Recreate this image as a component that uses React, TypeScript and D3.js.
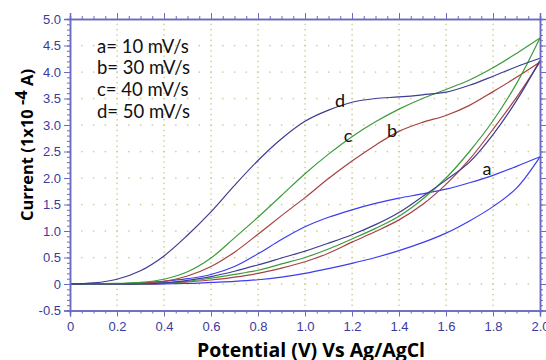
import React, { useEffect, useRef } from 'react';
import * as d3 from 'd3';

// Potential grid (V) shared by every branch
const potential = [0, 0.1, 0.2, 0.3, 0.4, 0.5, 0.6, 0.7, 0.8, 0.9, 1.0, 1.1, 1.2, 1.3, 1.4, 1.5, 1.6, 1.7, 1.8, 1.9, 2.0];

// Current (x10^-4 A), forward sweep (upper branch) and reverse sweep (lower branch)
const aForward = [0, 0, 0.005, 0.02, 0.05, 0.1, 0.18, 0.33, 0.57, 0.84, 1.08, 1.26, 1.4, 1.52, 1.62, 1.7, 1.79, 1.91, 2.05, 2.22, 2.4];
const aReverse = [0, 0, 0, 0, 0, 0.01, 0.03, 0.05, 0.08, 0.13, 0.2, 0.29, 0.39, 0.5, 0.63, 0.78, 0.96, 1.19, 1.46, 1.81, 2.4];
const bForward = [0, 0, 0.005, 0.02, 0.05, 0.15, 0.33, 0.6, 0.94, 1.29, 1.63, 1.99, 2.32, 2.62, 2.88, 3.05, 3.18, 3.37, 3.63, 3.9, 4.19];
const bReverse = [0, 0, 0, 0, 0.01, 0.04, 0.075, 0.13, 0.2, 0.3, 0.42, 0.58, 0.79, 0.99, 1.21, 1.5, 1.88, 2.35, 2.92, 3.52, 4.19];
const cForward = [0, 0, 0.01, 0.03, 0.09, 0.23, 0.49, 0.87, 1.26, 1.67, 2.08, 2.45, 2.78, 3.06, 3.3, 3.5, 3.67, 3.85, 4.08, 4.35, 4.64];
const cReverse = [0, 0, 0, 0, 0.02, 0.05, 0.11, 0.18, 0.26, 0.38, 0.5, 0.66, 0.85, 1.05, 1.28, 1.6, 2.0, 2.5, 3.08, 3.78, 4.64];
const dForward = [0, 0.02, 0.09, 0.25, 0.53, 0.92, 1.36, 1.86, 2.33, 2.74, 3.07, 3.28, 3.43, 3.5, 3.53, 3.57, 3.62, 3.75, 3.92, 4.1, 4.26];
const dReverse = [0, 0, 0, 0, 0.02, 0.07, 0.14, 0.24, 0.36, 0.49, 0.62, 0.77, 0.93, 1.12, 1.35, 1.65, 1.96, 2.3, 2.82, 3.46, 4.22];

const seriesIds = ['a', 'b', 'c', 'd'];
const seriesColors = ['#3c3cf0', '#a84040', '#3c9c3c', '#3c3c94'];
const forwardSweeps = [aForward, bForward, cForward, dForward];
const reverseSweeps = [aReverse, bReverse, cReverse, dReverse];

// Curve labels, placed in data coordinates
const labelPotential = [1.774, 1.37, 1.183, 1.149];
const labelCurrent = [2.19, 2.9, 2.81, 3.47];

const legendLines = ['a= 10 mV/s', 'b= 30 mV/s', 'c= 40 mV/s', 'd= 50 mV/s'];

const xMajor = [0, 0.2, 0.4, 0.6, 0.8, 1.0, 1.2, 1.4, 1.6, 1.8, 2.0];
const yMajor = [-0.5, 0, 0.5, 1.0, 1.5, 2.0, 2.5, 3.0, 3.5, 4.0, 4.5, 5.0];

const width = 546;
const height = 360;
const axisColor = '#6a6abf';
const tickTextColor = '#3a3a9c';
const tickFont = "'Liberation Sans Narrow', 'Arial Narrow', 'Liberation Sans', sans-serif";
const textFont = "Lato, 'Open Sans', sans-serif";

const App = () => {
  const svgRef = useRef(null);

  useEffect(() => {
    const svg = d3.select(svgRef.current);
    svg.selectAll('*').remove();

    const x = d3.scaleLinear().domain([0, 2]).range([70, 540]);
    const y = d3.scaleLinear().domain([-0.5, 5]).range([310.5, 19]);

    const xMinor = d3.range(0, 2.0001, 0.05);
    const yMinor = d3.range(-0.5, 5.0001, 0.1);

    // dotted grid: dots at minor positions along major lines
    const grid = svg.append('g').attr('fill', '#c9cb92');
    yMajor.slice(1, -1).forEach((v) => {
      xMinor.slice(1, -1).forEach((u) => {
        grid.append('rect').attr('x', x(u) - 0.6).attr('y', y(v) - 0.6).attr('width', 1.4).attr('height', 1.4);
      });
    });
    xMajor.slice(1, -1).forEach((u) => {
      yMinor.slice(1, -1).forEach((v) => {
        grid.append('rect').attr('x', x(u) - 0.6).attr('y', y(v) - 0.6).attr('width', 1.4).attr('height', 1.4);
      });
    });

    // curves
    const line = d3
      .line()
      .x((d) => x(d[0]))
      .y((d) => y(d[1]))
      .curve(d3.curveCatmullRom.alpha(0.5));

    seriesIds.forEach((id, i) => {
      [forwardSweeps[i], reverseSweeps[i]].forEach((sweep) => {
        svg
          .append('path')
          .attr('d', line(potential.map((p, k) => [p, sweep[k]])))
          .attr('fill', 'none')
          .attr('stroke', seriesColors[i])
          .attr('stroke-width', 1.2);
      });
    });

    // axes
    const fmt = (d) => (d === 0 ? '0' : d3.format('.1f')(d).replace('\u2212', '-'));
    const styleAxis = (g) => {
      g.select('.domain').attr('stroke', axisColor).attr('stroke-width', 1.5);
      g.selectAll('line').attr('stroke', axisColor).attr('stroke-width', 1);
      g.selectAll('text')
        .attr('fill', tickTextColor)
        .style('font-family', tickFont)
        .style('font-size', '13px');
    };

    svg.append('g').attr('transform', `translate(0,${y(-0.5)})`)
      .call(d3.axisBottom(x).tickValues(xMinor).tickSize(3).tickFormat(() => '')).call(styleAxis);
    svg.append('g').attr('transform', `translate(0,${y(-0.5)})`)
      .call(d3.axisBottom(x).tickValues(xMajor).tickSize(6).tickPadding(5).tickFormat(fmt)).call(styleAxis);

    svg.append('g').attr('transform', `translate(0,${y(5)})`)
      .call(d3.axisTop(x).tickValues(xMinor).tickSize(3).tickFormat(() => '')).call(styleAxis);
    svg.append('g').attr('transform', `translate(0,${y(5)})`)
      .call(d3.axisTop(x).tickValues(xMajor).tickSize(6).tickFormat(() => '')).call(styleAxis);

    svg.append('g').attr('transform', `translate(${x(0)},0)`)
      .call(d3.axisLeft(y).tickValues(yMinor).tickSize(3).tickFormat(() => '')).call(styleAxis);
    svg.append('g').attr('transform', `translate(${x(0)},0)`)
      .call(d3.axisLeft(y).tickValues(yMajor).tickSize(6).tickPadding(3).tickFormat(fmt)).call(styleAxis);

    svg.append('g').attr('transform', `translate(${x(2)},0)`)
      .call(d3.axisRight(y).tickValues(yMinor).tickSize(3).tickFormat(() => '')).call(styleAxis);
    svg.append('g').attr('transform', `translate(${x(2)},0)`)
      .call(d3.axisRight(y).tickValues(yMajor).tickSize(6).tickFormat(() => '')).call(styleAxis);

    // curve labels
    seriesIds.forEach((id, i) => {
      svg
        .append('text')
        .attr('x', x(labelPotential[i]))
        .attr('y', y(labelCurrent[i]))
        .attr('text-anchor', 'middle')
        .attr('dominant-baseline', 'central')
        .style('font-family', textFont)
        .style('font-size', '18px')
        .attr('fill', '#111')
        .text(id);
    });

    // legend
    legendLines.forEach((t, i) => {
      svg
        .append('text')
        .attr('x', 97)
        .attr('y', 52.5 + i * 21.8)
        .style('font-family', textFont)
        .style('font-size', '18.5px')
        .attr('fill', '#111')
        .text(t);
    });

    // axis titles
    svg
      .append('text')
      .attr('x', 311)
      .attr('y', 357)
      .attr('text-anchor', 'middle')
      .style('font-family', "'Open Sans', sans-serif")
      .style('font-weight', 'bold')
      .style('font-size', '19.5px')
      .attr('fill', '#000')
      .text('Potential (V) Vs Ag/AgCl');

    const yTitle = svg
      .append('text')
      .attr('transform', 'translate(33,145) rotate(-90)')
      .attr('text-anchor', 'middle')
      .style('font-family', "'Open Sans', sans-serif")
      .style('font-weight', 'bold')
      .style('font-size', '16.5px')
      .attr('fill', '#000');
    yTitle.append('tspan').text('Current (1x10 ');
    yTitle.append('tspan').attr('dy', -6).text('-4');
    yTitle.append('tspan').attr('dy', 6).text(' A)');
  }, []);

  return (
    <div style={{ position: 'absolute', left: 0, top: 0 }}>
      <svg ref={svgRef} width={width} height={height} style={{ display: 'block', background: '#fff' }}></svg>
    </div>
  );
};

export default App;
